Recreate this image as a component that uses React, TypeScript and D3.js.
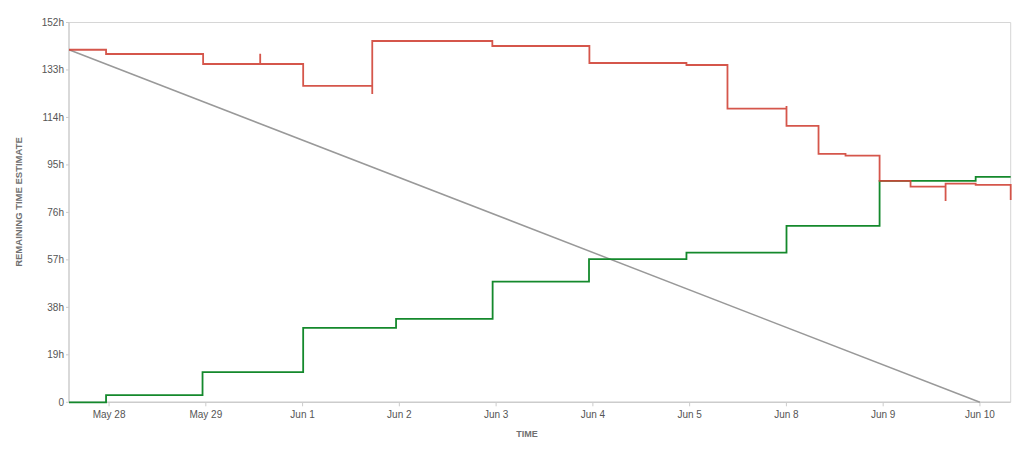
import React from "react";
import * as d3 from "d3";

const tickLabels = ["May 28", "May 29", "Jun 1", "Jun 2", "Jun 3", "Jun 4", "Jun 5", "Jun 8", "Jun 9", "Jun 10"];
const yTicks = [0, 19, 38, 57, 76, 95, 114, 133, 152];

// time is measured in working-day positions (0 = May 28, 1 = May 29, 2 = Jun 1, ...)
const timeDomain: [number, number] = [-0.414, 9.318];

const remainingTime = [-0.414, -0.031, 0.972, 1.562, 1.562, 2.006, 2.72, 2.72, 3.961, 4.964, 5.967, 6.391, 7.001, 7.001, 7.332, 7.611, 7.963, 8.283, 8.645, 8.645, 8.956, 9.318];
const remainingValue = [141.1, 139.4, 135.4, 139.5, 135.4, 126.6, 123.4, 144.6, 142.6, 135.8, 135.0, 117.5, 118.6, 110.6, 99.4, 98.7, 88.6, 86.3, 80.6, 87.5, 87.0, 81.0];

const completedTime = [-0.414, -0.031, 0.966, 2.006, 2.966, 3.964, 4.96, 5.967, 7.001, 7.963, 8.956, 9.318];
const completedValue = [0, 2.9, 12.1, 29.8, 33.4, 48.3, 57.3, 59.9, 70.6, 88.6, 90.2, 90.2];

const guideTime = [-0.414, 9.0];
const guideValue = [141.1, 0];

const W = 1024;
const H = 451;
const left = 69;
const right = 1010.7;
const top = 22.5;
const bottom = 402.3;

export default function App() {
  const x = d3.scaleLinear().domain(timeDomain).range([left, right]);
  const y = d3.scaleLinear().domain([0, 152]).range([bottom, top]);

  const stepLine = d3
    .line<[number, number]>()
    .x((d) => x(d[0]))
    .y((d) => y(d[1]))
    .curve(d3.curveStepAfter);
  const straight = d3
    .line<[number, number]>()
    .x((d) => x(d[0]))
    .y((d) => y(d[1]));

  const remaining = remainingTime.map((t, i) => [t, remainingValue[i]] as [number, number]);
  const completed = completedTime.map((t, i) => [t, completedValue[i]] as [number, number]);
  const guide = guideTime.map((t, i) => [t, guideValue[i]] as [number, number]);

  const font = "'Liberation Sans', Arial, sans-serif";

  return (
    <svg
      width={W}
      height={H}
      style={{ position: "absolute", left: 0, top: 0, display: "block", background: "#fff" }}
      fontFamily={font}
    >
      {/* frame */}
      <line x1={left} x2={right} y1={top} y2={top} stroke="#d6d6d6" strokeWidth={1} />
      <line x1={right} x2={right} y1={top} y2={bottom} stroke="#d6d6d6" strokeWidth={1} />
      {/* y axis */}
      <line x1={left} x2={left} y1={top} y2={bottom} stroke="#cccccc" strokeWidth={1.5} />
      {yTicks.map((v) => (
        <g key={v}>
          <line x1={left - 3} x2={left} y1={y(v)} y2={y(v)} stroke="#cccccc" strokeWidth={1} />
          <text x={left - 5} y={y(v)} dy="0.35em" textAnchor="end" fontSize={10} fill="#555">
            {v === 0 ? "0" : `${v}h`}
          </text>
        </g>
      ))}
      {/* x axis */}
      <line x1={left} x2={right} y1={bottom} y2={bottom} stroke="#cccccc" strokeWidth={1.5} />
      {tickLabels.map((lab, i) => (
        <g key={lab}>
          <line x1={x(i)} x2={x(i)} y1={bottom} y2={bottom + 4} stroke="#cccccc" strokeWidth={1} />
          <text x={x(i)} y={bottom + 16} textAnchor="middle" fontSize={10} fill="#555">
            {lab}
          </text>
        </g>
      ))}
      <text x={527} y={437} textAnchor="middle" fontSize={9} fontWeight="bold" fill="#707070">
        TIME
      </text>
      <text
        transform={`translate(22,202) rotate(-90)`}
        textAnchor="middle"
        fontSize={9.5}
        fontWeight="bold"
        fill="#707070"
      >
        REMAINING TIME ESTIMATE
      </text>
      {/* guideline */}
      <path d={straight(guide) || ""} fill="none" stroke="#999999" strokeWidth={1.5} />
      {/* completed */}
      <path d={stepLine(completed) || ""} fill="none" stroke="#14892c" strokeWidth={1.8} />
      {/* remaining */}
      <path d={stepLine(remaining) || ""} fill="none" stroke="#d04437" strokeWidth={1.8} strokeOpacity={0.9} />
    </svg>
  );
}
